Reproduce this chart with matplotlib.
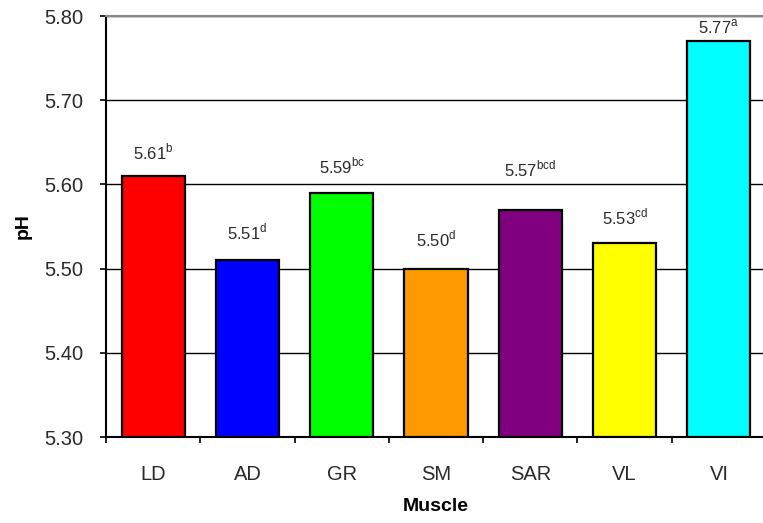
import numpy as np
import matplotlib
matplotlib.use("Agg")
import matplotlib.pyplot as plt

plt.rcParams['font.family'] = ['Liberation Sans', 'DejaVu Sans']
plt.rcParams['mathtext.fontset'] = 'custom'
plt.rcParams['mathtext.rm'] = 'Liberation Sans'

# data
muscles = ['LD', 'AD', 'GR', 'SM', 'SAR', 'VL', 'VI']
ph_values = [5.61, 5.51, 5.59, 5.50, 5.57, 5.53, 5.77]
letters = ['b', 'd', 'bc', 'd', 'bcd', 'cd', 'a']
colors = ['#FF0000', '#0000FF', '#00FF00', '#FF9900', '#800080', '#FFFF00', '#00FFFF']

# label offset above bar tops (points), as placed in the original
label_offsets = [17, 20, 19, 21, 29, 19, 10]

y_min, y_max = 5.30, 5.80

fig = plt.figure(figsize=(7.63, 5.23), dpi=100)
ax = fig.add_axes([0.139, 0.1644, 0.865, 0.805])

x = np.arange(len(muscles))
heights = np.array(ph_values) - y_min
ax.bar(x, heights, bottom=y_min, width=0.67, color=colors,
       edgecolor='black', linewidth=1.6, zorder=3)

for xi, v, let, off in zip(x, ph_values, letters, label_offsets):
    ax.annotate('%.2f$^{\\rm %s}$' % (v, let), (xi, v), xytext=(0, off),
                textcoords='offset points', ha='center', va='center',
                fontsize=12, color='#2a2a2a')

ax.set_ylim(y_min, y_max)
ax.set_xlim(-0.5, len(muscles) - 0.5)
ticks = np.arange(5.30, 5.81, 0.10)
ax.set_yticks(ticks)
ax.set_yticklabels(['%.2f' % t for t in ticks])
ax.yaxis.grid(True, color='black', linewidth=1.0, zorder=0)
ax.set_axisbelow(True)

# category labels centered, tick marks between categories
ax.set_xticks(x)
ax.set_xticklabels(muscles)
ax.set_xticks(np.arange(-0.5, len(muscles), 1.0), minor=True)
ax.tick_params(axis='x', which='major', length=0, pad=20, labelsize=14.5, labelcolor='#2a2a2a')
ax.tick_params(axis='x', which='minor', length=4, width=1.2, direction='out')
ax.tick_params(axis='y', length=4.5, width=1.2, pad=12, labelsize=14.5, labelcolor='#2a2a2a')

ax.spines['right'].set_visible(False)
ax.spines['top'].set_color('#888888')
ax.spines['top'].set_linewidth(1.5)
ax.spines['left'].set_linewidth(1.5)
ax.spines['bottom'].set_linewidth(1.5)

ax.set_ylabel('pH', fontsize=14, fontweight='bold', labelpad=9)
ax.set_xlabel('Muscle', fontsize=14, fontweight='bold', labelpad=10)

plt.savefig('out.png', dpi=100)
